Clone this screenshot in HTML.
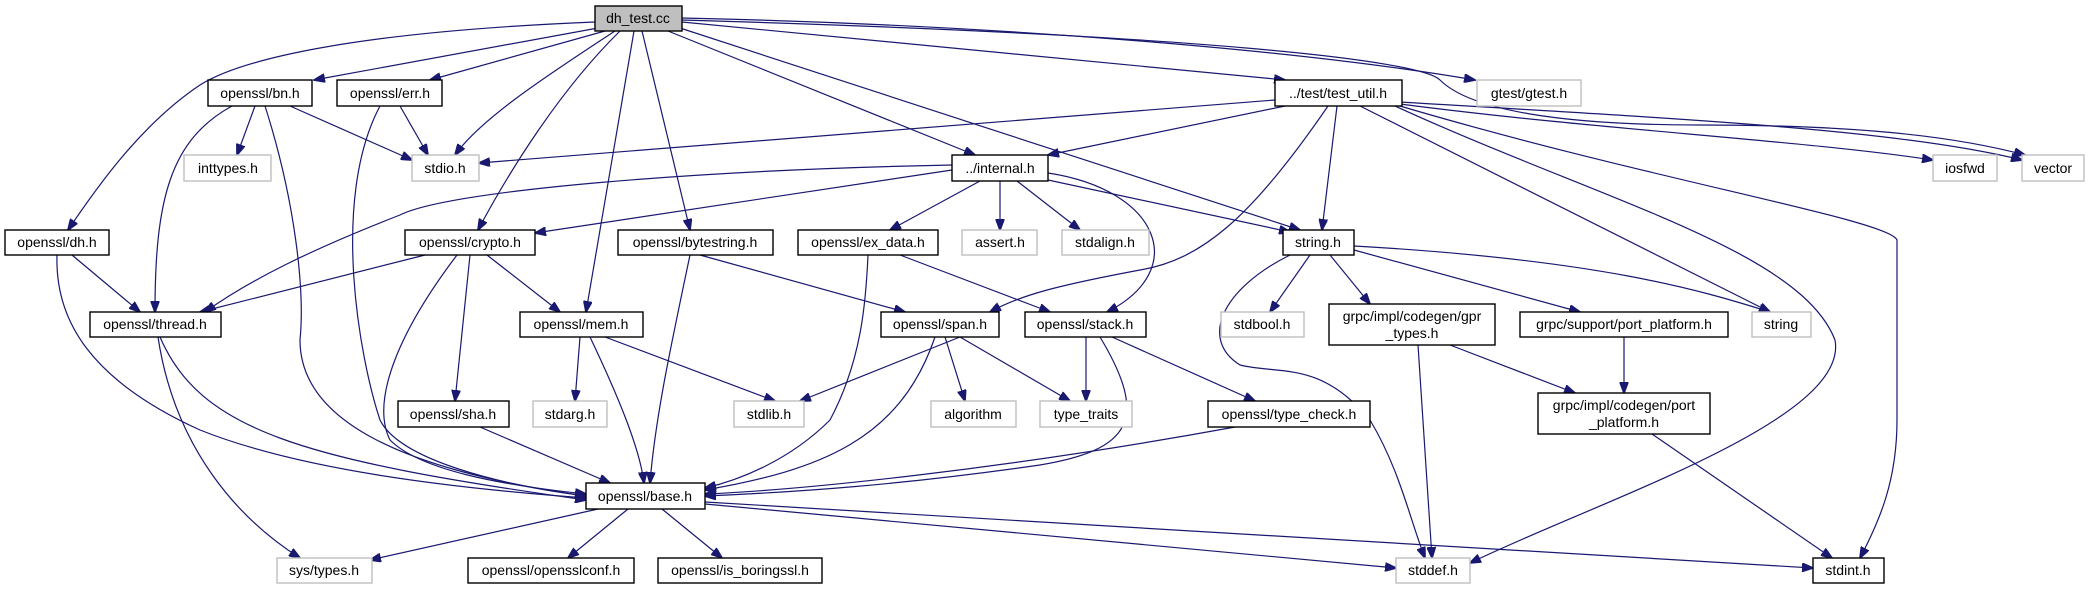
<!DOCTYPE html>
<html><head><meta charset="utf-8"><style>
html,body{margin:0;padding:0;background:#fff;}
svg{display:block;}
text{font-family:"Liberation Sans",sans-serif;font-size:14px;fill:#000;text-anchor:middle;}
.b{fill:#fff;stroke:#000;stroke-width:1.4;}
.g{fill:#fff;stroke:#bfbfbf;stroke-width:1.4;}
.e{fill:none;stroke:#191970;stroke-width:1.2;marker-end:url(#a);}
</style></head><body>
<svg width="2093" height="589" viewBox="0 0 2093 589" xmlns="http://www.w3.org/2000/svg">
<defs><marker id="a" markerWidth="12" markerHeight="9" refX="11" refY="4.5" orient="auto" markerUnits="userSpaceOnUse"><path d="M0,0 L12,4.5 L0,9 z" fill="#191970" stroke="#191970"/></marker></defs>
<g>
<path class="e" d="M595,22 C350,32 240,60 200,85 C140,125 95,190 68,230"/>
<path class="e" d="M598,28 L314,80"/>
<path class="e" d="M605,31 L430,80"/>
<path class="e" d="M615,31 C540,80 480,120 455,155"/>
<path class="e" d="M620,31 C560,90 510,170 478,230"/>
<path class="e" d="M634,31 L586,312"/>
<path class="e" d="M642,31 L690,230"/>
<path class="e" d="M668,31 L975,155"/>
<path class="e" d="M680,28 L1300,230"/>
<path class="e" d="M682,22 L1285,80"/>
<path class="e" d="M682,18 C1000,25 1300,50 1475,80"/>
<path class="e" d="M682,20 C1200,35 1420,60 1440,80 C1470,110 1560,125 1700,125 C1850,125 1950,135 2025,155"/>
<path class="e" d="M255,106 L237,155"/>
<path class="e" d="M290,106 L412,160"/>
<path class="e" d="M232,106 C170,140 155,200 155,312"/>
<path class="e" d="M265,106 C295,200 305,290 300,340 C300,420 400,470 586,496"/>
<path class="e" d="M400,106 L428,155"/>
<path class="e" d="M380,106 C330,200 360,360 380,420 C400,460 500,485 586,496"/>
<path class="e" d="M72,255 L140,312"/>
<path class="e" d="M57,255 C55,320 90,380 200,430 C300,470 450,488 586,498"/>
<path class="e" d="M425,255 L200,312"/>
<path class="e" d="M487,255 L560,312"/>
<path class="e" d="M470,255 L455,401"/>
<path class="e" d="M457,255 C400,330 370,400 390,440 C420,470 500,485 586,494"/>
<path class="e" d="M700,255 L905,312"/>
<path class="e" d="M690,255 C670,350 655,420 650,483"/>
<path class="e" d="M952,170 L535,233"/>
<path class="e" d="M952,165 C700,170 450,190 400,215 C310,250 250,280 205,312"/>
<path class="e" d="M980,181 L890,230"/>
<path class="e" d="M1000,181 L1000,230"/>
<path class="e" d="M1017,181 L1080,230"/>
<path class="e" d="M1048,180 L1290,232"/>
<path class="e" d="M1048,173 C1160,190 1190,270 1107,312"/>
<path class="e" d="M1275,100 L479,163"/>
<path class="e" d="M1285,106 L1048,155"/>
<path class="e" d="M1328,106 C1250,220 1200,260 1140,270 C1060,285 1020,295 990,312"/>
<path class="e" d="M1337,106 L1322,230"/>
<path class="e" d="M1360,106 L1770,312"/>
<path class="e" d="M1400,104 C1600,130 1800,140 1933,160"/>
<path class="e" d="M1400,102 C1700,120 1900,130 2022,160"/>
<path class="e" d="M1395,106 C1600,200 1800,250 1835,340 C1850,420 1600,500 1470,563"/>
<path class="e" d="M1400,106 C1650,180 1890,220 1897,240 L1897,420 C1897,480 1880,520 1860,558"/>
<path class="e" d="M1310,255 L1270,312"/>
<path class="e" d="M1330,255 L1370,304"/>
<path class="e" d="M1354,250 L1580,312"/>
<path class="e" d="M1354,246 C1600,260 1700,290 1770,312"/>
<path class="e" d="M1290,255 C1220,290 1200,340 1240,365 C1280,375 1320,360 1370,420 C1400,470 1410,520 1425,558"/>
<path class="e" d="M1450,345 L1575,393"/>
<path class="e" d="M1418,345 L1432,558"/>
<path class="e" d="M1624,337 L1624,393"/>
<path class="e" d="M1652,434 L1832,558"/>
<path class="e" d="M580,337 L575,401"/>
<path class="e" d="M605,337 L775,401"/>
<path class="e" d="M590,337 C620,400 640,450 644,483"/>
<path class="e" d="M960,337 L800,401"/>
<path class="e" d="M945,337 L965,401"/>
<path class="e" d="M960,337 L1070,401"/>
<path class="e" d="M935,337 C900,440 820,470 705,490"/>
<path class="e" d="M1086,337 L1086,401"/>
<path class="e" d="M1112,337 L1255,401"/>
<path class="e" d="M1100,337 C1150,420 1130,450 1040,465 C900,485 800,492 705,496"/>
<path class="e" d="M868,255 C866,300 862,360 830,420 C790,460 740,480 705,488"/>
<path class="e" d="M900,255 L1050,312"/>
<path class="e" d="M158,337 C175,450 240,520 300,558"/>
<path class="e" d="M160,337 C200,430 300,460 586,500"/>
<path class="e" d="M480,427 L610,483"/>
<path class="e" d="M1235,427 C1000,470 800,490 705,494"/>
<path class="e" d="M598,509 L370,560"/>
<path class="e" d="M628,509 L568,558"/>
<path class="e" d="M662,509 L722,558"/>
<path class="e" d="M705,504 L1396,568"/>
<path class="e" d="M705,502 L1813,568"/>
</g>
<g>
<rect x="595" y="6" width="87" height="25" fill="#bfbfbf" stroke="#000" stroke-width="1.4"/><text x="638" y="23">dh_test.cc</text>
<rect class="b" x="208" y="80" width="104" height="26"/><text x="260" y="98">openssl/bn.h</text>
<rect class="b" x="337" y="80" width="105" height="26"/><text x="390" y="98">openssl/err.h</text>
<rect class="b" x="1275" y="80" width="127" height="26"/><text x="1338" y="98">../test/test_util.h</text>
<rect class="g" x="1477" y="80" width="104" height="26"/><text x="1529" y="98">gtest/gtest.h</text>
<rect class="g" x="184" y="155" width="87" height="26"/><text x="228" y="173">inttypes.h</text>
<rect class="g" x="412" y="155" width="67" height="26"/><text x="445" y="173">stdio.h</text>
<rect class="b" x="952" y="155" width="96" height="26"/><text x="1000" y="173">../internal.h</text>
<rect class="g" x="1933" y="155" width="64" height="26"/><text x="1965" y="173">iosfwd</text>
<rect class="g" x="2022" y="155" width="62" height="26"/><text x="2053" y="173">vector</text>
<rect class="b" x="5" y="230" width="104" height="25"/><text x="57" y="247">openssl/dh.h</text>
<rect class="b" x="405" y="230" width="130" height="25"/><text x="470" y="247">openssl/crypto.h</text>
<rect class="b" x="618" y="230" width="155" height="25"/><text x="695" y="247">openssl/bytestring.h</text>
<rect class="b" x="798" y="230" width="140" height="25"/><text x="868" y="247">openssl/ex_data.h</text>
<rect class="g" x="962" y="230" width="75" height="25"/><text x="1000" y="247">assert.h</text>
<rect class="g" x="1062" y="230" width="87" height="25"/><text x="1105" y="247">stdalign.h</text>
<rect class="b" x="1283" y="230" width="71" height="25"/><text x="1318" y="247">string.h</text>
<rect class="b" x="90" y="312" width="131" height="25"/><text x="155" y="329">openssl/thread.h</text>
<rect class="b" x="520" y="312" width="123" height="25"/><text x="581" y="329">openssl/mem.h</text>
<rect class="b" x="881" y="312" width="118" height="25"/><text x="940" y="329">openssl/span.h</text>
<rect class="b" x="1025" y="312" width="121" height="25"/><text x="1085" y="329">openssl/stack.h</text>
<rect class="g" x="1221" y="312" width="83" height="25"/><text x="1262" y="329">stdbool.h</text>
<rect class="b" x="1329" y="304" width="166" height="41"/><text x="1412" y="321">grpc/impl/codegen/gpr</text><text x="1412" y="338">_types.h</text>
<rect class="b" x="1520" y="312" width="208" height="25"/><text x="1624" y="329">grpc/support/port_platform.h</text>
<rect class="g" x="1752" y="312" width="59" height="25"/><text x="1781" y="329">string</text>
<rect class="b" x="398" y="401" width="111" height="26"/><text x="453" y="419">openssl/sha.h</text>
<rect class="g" x="533" y="401" width="74" height="26"/><text x="570" y="419">stdarg.h</text>
<rect class="g" x="734" y="401" width="70" height="26"/><text x="769" y="419">stdlib.h</text>
<rect class="g" x="931" y="401" width="85" height="26"/><text x="973" y="419">algorithm</text>
<rect class="g" x="1040" y="401" width="92" height="26"/><text x="1086" y="419">type_traits</text>
<rect class="b" x="1208" y="401" width="162" height="26"/><text x="1289" y="419">openssl/type_check.h</text>
<rect class="b" x="1538" y="393" width="172" height="41"/><text x="1624" y="410">grpc/impl/codegen/port</text><text x="1624" y="427">_platform.h</text>
<rect class="b" x="586" y="483" width="119" height="26"/><text x="645" y="501">openssl/base.h</text>
<rect class="g" x="277" y="558" width="95" height="25"/><text x="324" y="575">sys/types.h</text>
<rect class="b" x="468" y="558" width="166" height="25"/><text x="551" y="575">openssl/opensslconf.h</text>
<rect class="b" x="658" y="558" width="164" height="25"/><text x="740" y="575">openssl/is_boringssl.h</text>
<rect class="g" x="1396" y="558" width="74" height="25"/><text x="1433" y="575">stddef.h</text>
<rect class="b" x="1813" y="558" width="71" height="25"/><text x="1848" y="575">stdint.h</text>
</g>
</svg>
</body></html>
